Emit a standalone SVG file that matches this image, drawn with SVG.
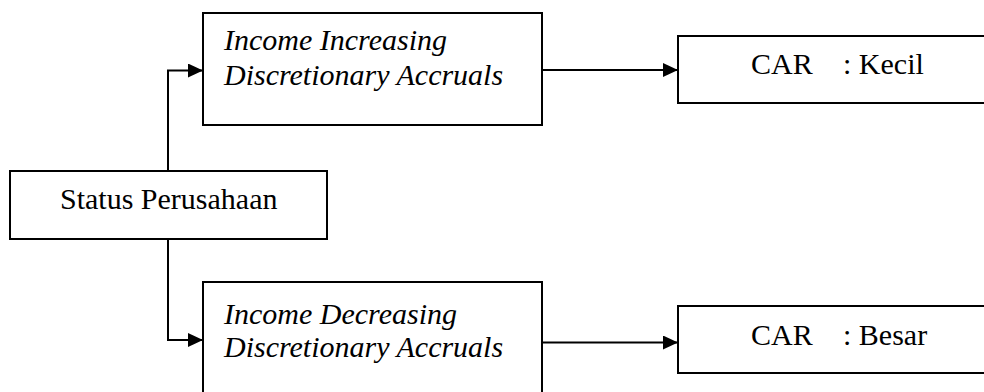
<svg xmlns="http://www.w3.org/2000/svg" width="984" height="392" viewBox="0 0 984 392">
  <style>
    .box { fill: #ffffff; stroke: #000000; stroke-width: 2; }
    .lbl { font-family: "Liberation Serif", "Times New Roman", serif; font-size: 30px; fill: #000000; }
    .it { font-style: italic; }
    .wire { fill: none; stroke: #000000; stroke-width: 2; }
  </style>
  <defs>
    <marker id="arrow" markerUnits="userSpaceOnUse" markerWidth="15" markerHeight="14" refX="15" refY="7" orient="auto">
      <path d="M0,0 L15,7 L0,14 Z" fill="#000000"/>
    </marker>
  </defs>
  <rect width="984" height="392" fill="#ffffff"/>

  <g id="connectors">
    <path class="wire" d="M168,171 V70.5 H203" marker-end="url(#arrow)"/>
    <path class="wire" d="M168,239 V340 H203" marker-end="url(#arrow)"/>
    <path class="wire" d="M542,70 H678" marker-end="url(#arrow)"/>
    <path class="wire" d="M542,342.5 H678" marker-end="url(#arrow)"/>
  </g>

  <g id="status">
    <rect class="box" x="10" y="171" width="317" height="68"/>
    <text class="lbl" x="60" y="209">Status Perusahaan</text>
  </g>

  <g id="income-increasing">
    <rect class="box" x="203" y="13" width="339" height="112"/>
    <text class="lbl it" x="224" y="50">Income Increasing</text>
    <text class="lbl it" x="224" y="85">Discretionary Accruals</text>
  </g>

  <g id="income-decreasing">
    <rect class="box" x="203" y="282" width="339" height="120"/>
    <text class="lbl it" x="224" y="324">Income Decreasing</text>
    <text class="lbl it" x="224" y="357">Discretionary Accruals</text>
  </g>

  <g id="car-kecil">
    <rect class="box" x="678" y="36" width="320" height="67"/>
    <text class="lbl" y="74"><tspan x="751">CAR</tspan><tspan x="843">: Kecil</tspan></text>
  </g>

  <g id="car-besar">
    <rect class="box" x="678" y="306" width="320" height="67"/>
    <text class="lbl" y="345"><tspan x="751">CAR</tspan><tspan x="843">: Besar</tspan></text>
  </g>
</svg>
